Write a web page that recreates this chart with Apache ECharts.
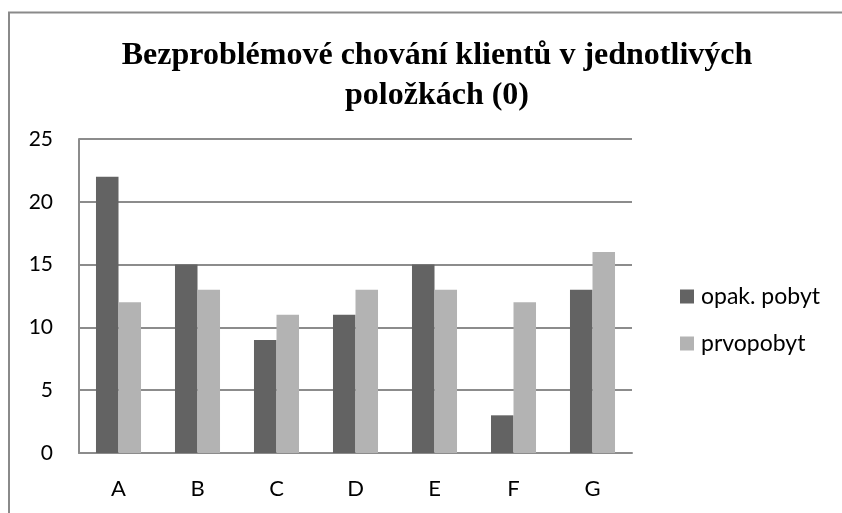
<!DOCTYPE html>
<html>
<head>
<meta charset="utf-8">
<script src="https://cdn.jsdelivr.net/npm/echarts@6/dist/echarts.min.js"></script>
<style>
  html, body { margin: 0; padding: 0; background: #fff; }
  #chart { width: 842px; height: 513px; }
</style>
</head>
<body>
<div id="chart"></div>
<script>
// data
const categories = ['A', 'B', 'C', 'D', 'E', 'F', 'G'];
const opakPobyt = [22, 15, 9, 11, 15, 3, 13];
const prvopobyt = [12, 13, 11, 13, 13, 12, 16];
const seriesNames = ['opak. pobyt', 'prvopobyt'];
const titleText = 'Bezproblémové chování klientů v jednotlivých\npoložkách (0)';

const labelFont = 'Lato, "Open Sans", sans-serif';

const chart = echarts.init(document.getElementById('chart'));
chart.setOption({
  animation: false,
  backgroundColor: '#fff',
  title: {
    text: titleText,
    left: 432,
    top: 31,
    textAlign: 'center',
    textStyle: {
      fontFamily: '"Liberation Serif", serif',
      fontWeight: 'bold',
      fontSize: 32,
      lineHeight: 40,
      color: '#000'
    }
  },
  legend: {
    orient: 'vertical',
    left: 675,
    top: 280,
    itemWidth: 14,
    itemHeight: 14,
    itemGap: 24,
    icon: 'rect',
    textStyle: { fontFamily: labelFont, fontSize: 23, color: '#000', padding: [0, 0, 0, 2] },
    data: seriesNames
  },
  grid: { left: 79, right: 210, top: 139, bottom: 60, containLabel: false },
  xAxis: {
    type: 'category',
    data: categories,
    axisLine: { lineStyle: { color: '#8c8c8c', width: 2 } },
    axisTick: { show: false },
    axisLabel: { fontFamily: labelFont, fontSize: 22, color: '#000', margin: 25 }
  },
  yAxis: {
    type: 'value',
    min: 0,
    max: 25,
    interval: 5,
    axisLine: { show: true, lineStyle: { color: '#8c8c8c', width: 2 } },
    axisTick: { show: false },
    splitLine: { lineStyle: { color: '#8c8c8c', width: 2 } },
    axisLabel: { fontFamily: labelFont, fontSize: 21, color: '#000', margin: 26 }
  },
  series: [
    {
      name: seriesNames[0],
      type: 'bar',
      data: opakPobyt,
      itemStyle: { color: '#636363' },
      barGap: '0%',
      barCategoryGap: '43%'
    },
    {
      name: seriesNames[1],
      type: 'bar',
      data: prvopobyt,
      itemStyle: { color: '#b3b3b3' },
      barGap: '0%',
      barCategoryGap: '43%'
    }
  ],
  graphic: [
    {
      type: 'polyline',
      shape: { points: [[9, 513], [9, 12.5], [842, 12.5]] },
      style: { stroke: '#8a8a8a', lineWidth: 2, fill: null }
    }
  ]
});
</script>
</body>
</html>
